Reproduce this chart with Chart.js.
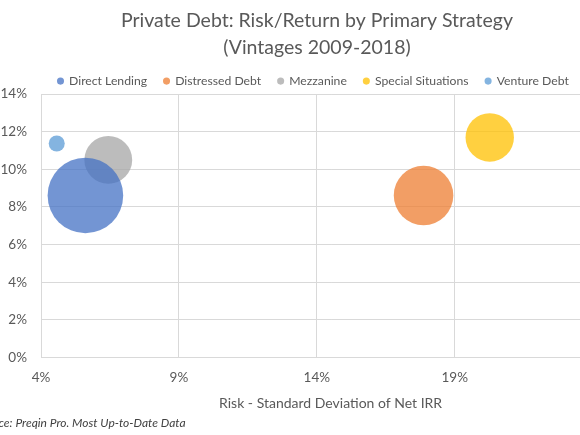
<!DOCTYPE html>
<html>
<head>
<meta charset="utf-8">
<script src="https://cdn.jsdelivr.net/npm/chart.js@4.4.1/dist/chart.umd.min.js"></script>
<style>
  html, body { margin: 0; padding: 0; overflow: hidden; background: #fff; width: 580px; height: 435px; }
  /* the reference is a crop of a wider chart, so the canvas runs past both edges */
  #wrap { position: absolute; left: -78px; top: 0; width: 736px; height: 435px; }
</style>
</head>
<body>
<div id="wrap"><canvas id="myChart" width="736" height="435"></canvas></div>
<script>
// Data
let strategies = ['Direct Lending', 'Distressed Debt', 'Mezzanine', 'Special Situations', 'Venture Debt'];
let risk = [5.61, 17.87, 6.44, 20.27, 4.57];      // std dev of net IRR, %
let ret = [8.61, 8.61, 10.5, 11.69, 11.37];       // net IRR, %
let size = [100, 62, 40, 41, 4.5];                // relative bubble size (area)
let xTicks = [4, 9, 14, 19, 24];
let yTicks = [0, 2, 4, 6, 8, 10, 12, 14];

let colors = [
    'rgba(68, 114, 196, 0.75)',
    'rgba(237, 125, 49, 0.75)',
    'rgba(165, 165, 165, 0.75)',
    'rgba(255, 192, 0, 0.75)',
    'rgba(91, 155, 213, 0.75)'
];

const maxRadius = 37.8;
const maxSize = Math.max(...size);
const font = 'Lato, "Noto Sans", sans-serif';
const grey = '#595959';
const gridColor = '#d9d9d9';

let datasets = strategies.map(function (name, i) {
    return {
        label: name,
        data: [{ x: risk[i], y: ret[i], r: maxRadius * Math.sqrt(size[i] / maxSize) }],
        backgroundColor: colors[i],
        borderWidth: 0
    };
});

let ctx = document.getElementById('myChart').getContext('2d');
let myChart = new Chart(ctx, {
    type: 'bubble',
    data: { datasets: datasets },
    options: {
        responsive: false,
        animation: false,
        layout: { padding: { left: 54, right: 0, top: 0, bottom: 0 } },
        plugins: {
            title: {
                display: true,
                text: ['Private Debt: Risk/Return by Primary Strategy', '(Vintages 2009-2018)'],
                color: grey,
                font: { family: font, size: 19.5, weight: 'normal', lineHeight: 27 / 19.5 },
                padding: { top: 7, bottom: -3 }
            },
            subtitle: {
                display: true,
                position: 'bottom',
                align: 'start',
                text: 'Source: Preqin Pro. Most Up-to-Date Data',
                color: '#404040',
                font: { family: font, size: 12, style: 'italic', lineHeight: 1.2 },
                padding: { top: 4.3, bottom: 4.8 }
            },
            legend: {
                position: 'top',
                fullSize: false,
                align: 'start',
                maxHeight: 36,
                labels: {
                    usePointStyle: true,
                    pointStyle: 'circle',
                    boxWidth: 5,
                    boxHeight: 5,
                    padding: 17,
                    color: grey,
                    font: { family: font, size: 12.2 }
                }
            },
            tooltip: { enabled: false }
        },
        scales: {
            x: {
                type: 'linear',
                min: 4,
                max: 25,
                afterBuildTicks: function (scale) {
                    scale.ticks = xTicks.map(function (v) { return { value: v }; });
                },
                ticks: {
                    color: grey,
                    padding: 12,
                    font: { family: font, size: 13.5 },
                    callback: function (v) { return v + '%'; }
                },
                grid: { color: gridColor, drawTicks: false },
                border: { color: gridColor },
                title: {
                    display: true,
                    text: 'Risk - Standard Deviation of Net IRR',
                    color: grey,
                    font: { family: font, size: 14, lineHeight: 1.2 },
                    padding: { top: -3, bottom: 0 }
                }
            },
            y: {
                min: 0,
                max: 14,
                afterBuildTicks: function (scale) {
                    scale.ticks = yTicks.map(function (v) { return { value: v }; });
                },
                afterFit: function (scale) { scale.width = 65; },
                ticks: {
                    color: grey,
                    padding: 14,
                    font: { family: font, size: 13.5 },
                    callback: function (v) { return v + '%'; }
                },
                grid: { color: gridColor, drawTicks: false },
                border: { color: gridColor }
            }
        }
    }
});
</script>
</body>
</html>
